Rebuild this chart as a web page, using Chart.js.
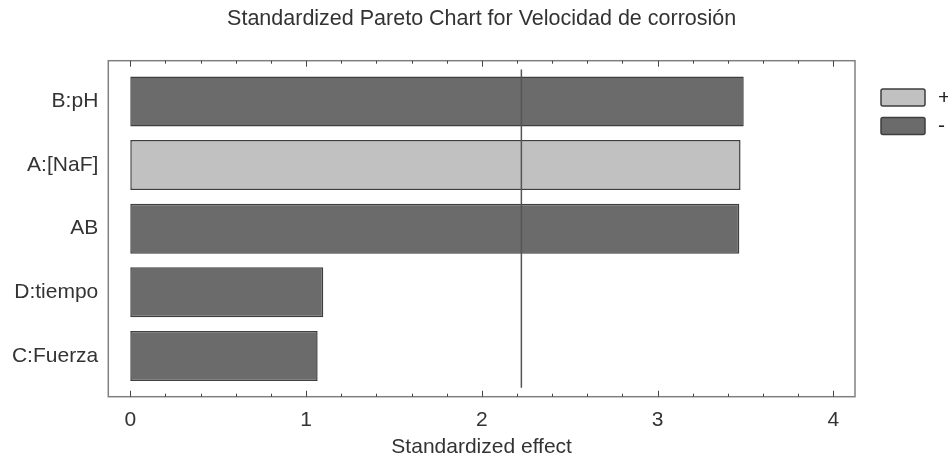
<!DOCTYPE html>
<html>
<head>
<meta charset="utf-8">
<script src="https://cdn.jsdelivr.net/npm/chart.js@4"></script>
<style>
  html, body { margin: 0; padding: 0; background: #fff; }
  #wrap { width: 948px; height: 460px; }
</style>
</head>
<body>
<div id="wrap"><canvas id="pareto"></canvas></div>
<script>
// Data
const factors = ["B:pH", "A:[NaF]", "AB", "D:tiempo", "C:Fuerza"];
const effects = [3.49, 3.472, 3.465, 1.098, 1.066];
const signs = ["-", "+", "-", "-", "-"];
const xTicks = [0, 1, 2, 3, 4];
const tCritical = 2.225;

const chartTitle = "Standardized Pareto Chart for Velocidad de corrosión";
const legendNames = ["+", "-"];
const signColor = { "+": "#c1c1c1", "-": "#6b6b6b" };
const edgeColor = "#3e3e3e";
const FONT = "'Liberation Sans', Arial, sans-serif";

// title over the plot box, frame, tick marks, critical line and legend
const decor = {
  id: "decor",
  afterDatasetsDraw(chart) {
    const { ctx, chartArea: a, scales: { x, y } } = chart;
    ctx.save();

    // title, centred on the plot box
    ctx.font = "21.5px " + FONT;
    ctx.fillStyle = "#333";
    ctx.textAlign = "center";
    ctx.textBaseline = "alphabetic";
    ctx.fillText(chartTitle, (a.left + a.right) / 2, 24.5);
    ctx.textAlign = "left";

    // critical t line
    const lx = x.getPixelForValue(tCritical);
    ctx.strokeStyle = "#555";
    ctx.lineWidth = 1.5;
    ctx.beginPath();
    ctx.moveTo(lx, y.getPixelForValue(-0.5));
    ctx.lineTo(lx, y.getPixelForValue(4.5));
    ctx.stroke();

    // frame
    ctx.strokeStyle = "#808080";
    ctx.lineWidth = 1.5;
    ctx.strokeRect(a.left, a.top, a.right - a.left, a.bottom - a.top);

    // inward ticks, top and bottom
    ctx.strokeStyle = "#444";
    ctx.lineWidth = 1;
    for (let i = 0; i <= 20; i++) {
      const v = i / 5;
      const px = Math.round(x.getPixelForValue(v)) + 0.5;
      const len = i % 5 === 0 ? 6 : 3;
      ctx.beginPath();
      ctx.moveTo(px, a.bottom);
      ctx.lineTo(px, a.bottom - len);
      ctx.moveTo(px, a.top);
      ctx.lineTo(px, a.top + len);
      ctx.stroke();
    }

    // legend
    ctx.font = "21px " + FONT;
    ctx.textBaseline = "middle";
    legendNames.forEach((name, i) => {
      const bx = 881, by = 89 + i * 28.5;
      ctx.fillStyle = signColor[name];
      ctx.strokeStyle = edgeColor;
      ctx.lineWidth = 1.5;
      ctx.beginPath();
      ctx.roundRect(bx, by, 44, 17, 2);
      ctx.fill();
      ctx.stroke();
      ctx.fillStyle = "#222";
      ctx.fillText(name, 938, by + 9);
    });
    ctx.restore();
  }
};

new Chart(document.getElementById("pareto"), {
  type: "bar",
  data: {
    datasets: [{
      data: effects.map((v, i) => ({ x: v, y: i })),
      backgroundColor: signs.map(s => signColor[s]),
      borderColor: edgeColor,
      borderWidth: 1.5,
      borderSkipped: false,
      barPercentage: 0.786,
      categoryPercentage: 1
    }]
  },
  options: {
    indexAxis: "y",
    responsive: true,
    maintainAspectRatio: false,
    animation: false,
    layout: { padding: { left: 0, right: 93, top: 60.7, bottom: 0 } },
    plugins: {
      legend: { display: false },
      tooltip: { enabled: false },
      title: { display: false }
    },
    scales: {
      x: {
        type: "linear",
        min: -0.125,
        max: 4.123,
        afterBuildTicks: s => { s.ticks = xTicks.map(v => ({ value: v })); },
        afterFit: s => { s.height = 63.3; },
        grid: { display: false, drawTicks: false },
        border: { display: false },
        ticks: { color: "#333", font: { family: FONT, size: 21 }, padding: 11 },
        title: {
          display: true,
          text: "Standardized effect",
          color: "#333",
          font: { family: FONT, size: 21 },
          padding: { top: 0, bottom: 0 }
        }
      },
      y: {
        type: "linear",
        reverse: true,
        offset: false,
        min: -0.64,
        max: 4.64,
        afterBuildTicks: s => { s.ticks = factors.map((_, i) => ({ value: i })); },
        afterFit: s => { s.width = 108.3; },
        grid: { display: false, drawTicks: false },
        border: { display: false },
        ticks: {
          color: "#333",
          font: { family: FONT, size: 21 },
          padding: 10,
          callback: v => factors[v] ?? ""
        }
      }
    }
  },
  plugins: [decor]
});
</script>
</body>
</html>
